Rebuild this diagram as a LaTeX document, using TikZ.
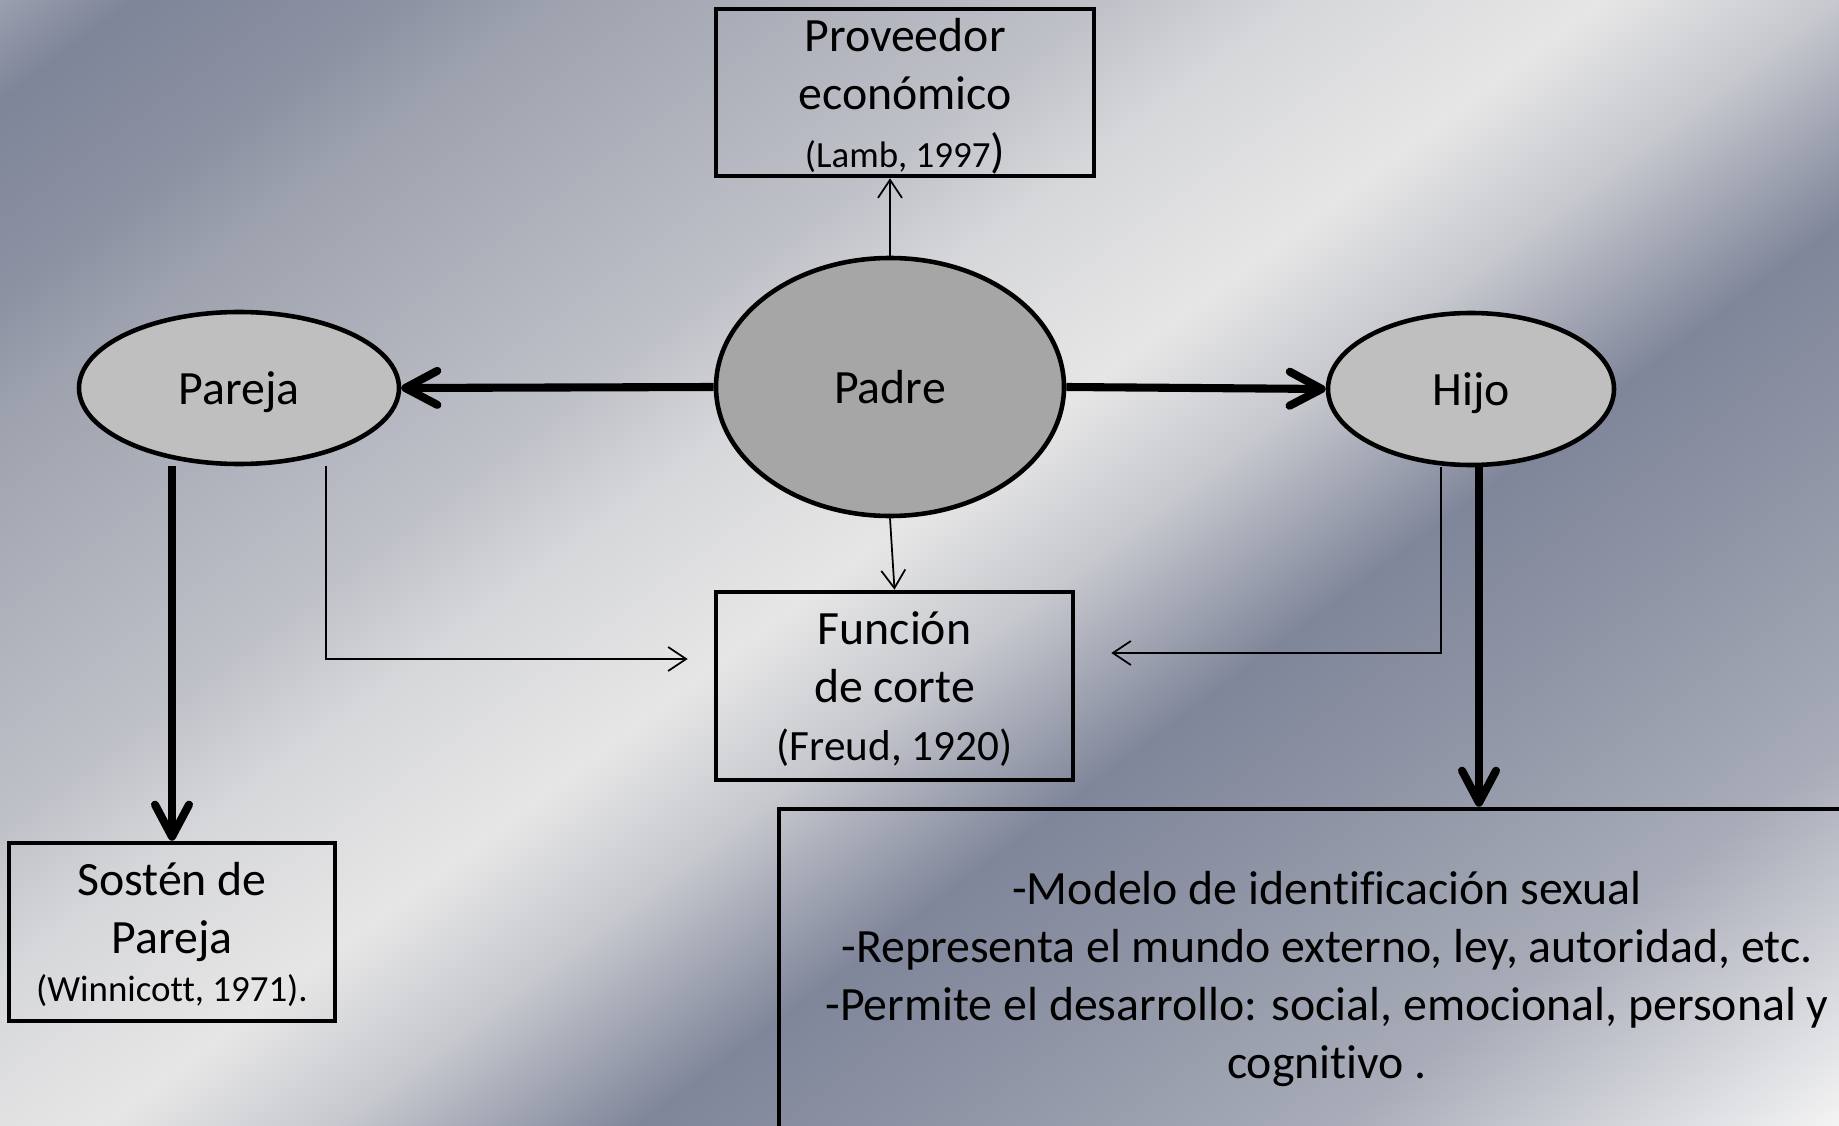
\documentclass[tikz,border=0pt]{standalone}
\usepackage{fontspec}
\setmainfont{Carlito}[Ligatures=NoCommon]
\usetikzlibrary{arrows.meta,shapes.geometric}
\definecolor{fondoA}{HTML}{9AA0AE}
\definecolor{fondoB}{HTML}{7F8599}
\definecolor{fondoC}{HTML}{8C92A2}
\definecolor{fondoD}{HTML}{9DA2AE}
\definecolor{fondoE}{HTML}{BFC1C8}
\definecolor{fondoF}{HTML}{D6D7DA}
\definecolor{fondoG}{HTML}{E6E6E6}
\definecolor{fondoH}{HTML}{C6C8CE}
\definecolor{fondoI}{HTML}{80869A}
\definecolor{fondoJ}{HTML}{8F95A5}
\definecolor{fondoK}{HTML}{A8ACB8}
\definecolor{fondoL}{HTML}{F4F4F4}
\definecolor{gris}{HTML}{A6A6A6}
\definecolor{grisclaro}{HTML}{BFBFBF}
\pgfdeclarehorizontalshading{metal}{100bp}{color(0bp)=(fondoA); color(27.2bp)=(fondoA);
  color(29.1bp)=(fondoB); color(32.7bp)=(fondoC); color(34.8bp)=(fondoD);
  color(42.3bp)=(fondoE); color(45bp)=(fondoF); color(49.1bp)=(fondoG);
  color(52.3bp)=(fondoH); color(56.4bp)=(fondoI); color(60.5bp)=(fondoJ);
  color(65.9bp)=(fondoK); color(72.8bp)=(fondoL); color(100bp)=(fondoL)}
\newcommand{\cita}{\fontsize{10.5pt}{12.6pt}\selectfont}
\begin{document}
\begin{tikzpicture}[
  caja/.style={draw, line width=1.3pt, align=center, inner sep=0pt, text depth=0pt},
  elipse/.style={ellipse, draw, line width=1.3pt, inner sep=0pt, text depth=0pt},
  gruesa/.style={line width=2.3pt, -{Straight Barb[length=3.2mm,width=3.4mm,round]}},
  fina/.style={line width=0.5pt, -{Straight Barb[length=1.8mm,width=2.4mm]}},
  font=\fontsize{13.6pt}{16.5pt}\selectfont]
  \useasboundingbox (0,0) rectangle (18.39,11.25);
  % fondo metalizado
  \begin{scope}
    \clip (0,0) rectangle (18.39,11.25);
    \begin{scope}[transform canvas={shift={(9.195,5.625)}, rotate=-53.13}]
      \shade[shading=metal] (-11,-11) rectangle (11,11);
    \end{scope}
  \end{scope}
  % nodos
  \node[caja, minimum width=3.78cm, minimum height=1.67cm] (proveedor) at (9.05,10.325)
    {Proveedor\\económico\\{\cita(Lamb, 1997}{)}};
  \node[elipse, fill=gris, minimum width=3.48cm, minimum height=2.58cm] (padre) at (8.90,7.38) {Padre};
  \node[elipse, fill=grisclaro, minimum width=3.20cm, minimum height=1.52cm] (pareja) at (2.39,7.37) {Pareja};
  \node[elipse, fill=grisclaro, minimum width=2.86cm, minimum height=1.52cm] (hijo) at (14.71,7.36) {Hijo};
  \node[caja, minimum width=3.57cm, minimum height=1.88cm] (funcion) at (8.945,4.39)
    {Función\\de corte\\{\fontsize{12.3pt}{14.4pt}\selectfont(Freud, 1920)}};
  \node[caja, minimum width=3.26cm, minimum height=1.78cm] (sosten) at (1.72,1.93)
    {Sostén de\\Pareja\\[-3pt]{\cita(Winnicott, 1971).}};
  \node[caja, minimum width=10.96cm, minimum height=3.32cm] (rol) at (13.27,1.50)
    {-Modelo de identificación sexual\\-Representa el mundo externo, ley, autoridad, etc.\\-Permite el desarrollo: social, emocional, personal y\\cognitivo .};
  % flechas
  \draw[fina] (padre.north) -- (padre.north |- proveedor.south);
  \draw[fina] (padre.south) -- (funcion.north);
  \draw[gruesa] (padre.west) -- (pareja.east);
  \draw[gruesa] (padre.east) -- (hijo.west);
  \draw[gruesa] (pareja.south -| sosten.north) -- (sosten.north);
  \draw[gruesa] ([xshift=0.8mm]hijo.south) -- ([xshift=0.8mm]hijo.south |- rol.north);
  \draw[fina] ([xshift=8.7mm]pareja.south) |- ([xshift=-2.6mm,yshift=2.7mm]funcion.west);
  \draw[fina] ([xshift=-3mm]hijo.south) |- ([xshift=3.6mm,yshift=3.3mm]funcion.east);
\end{tikzpicture}
\end{document}
